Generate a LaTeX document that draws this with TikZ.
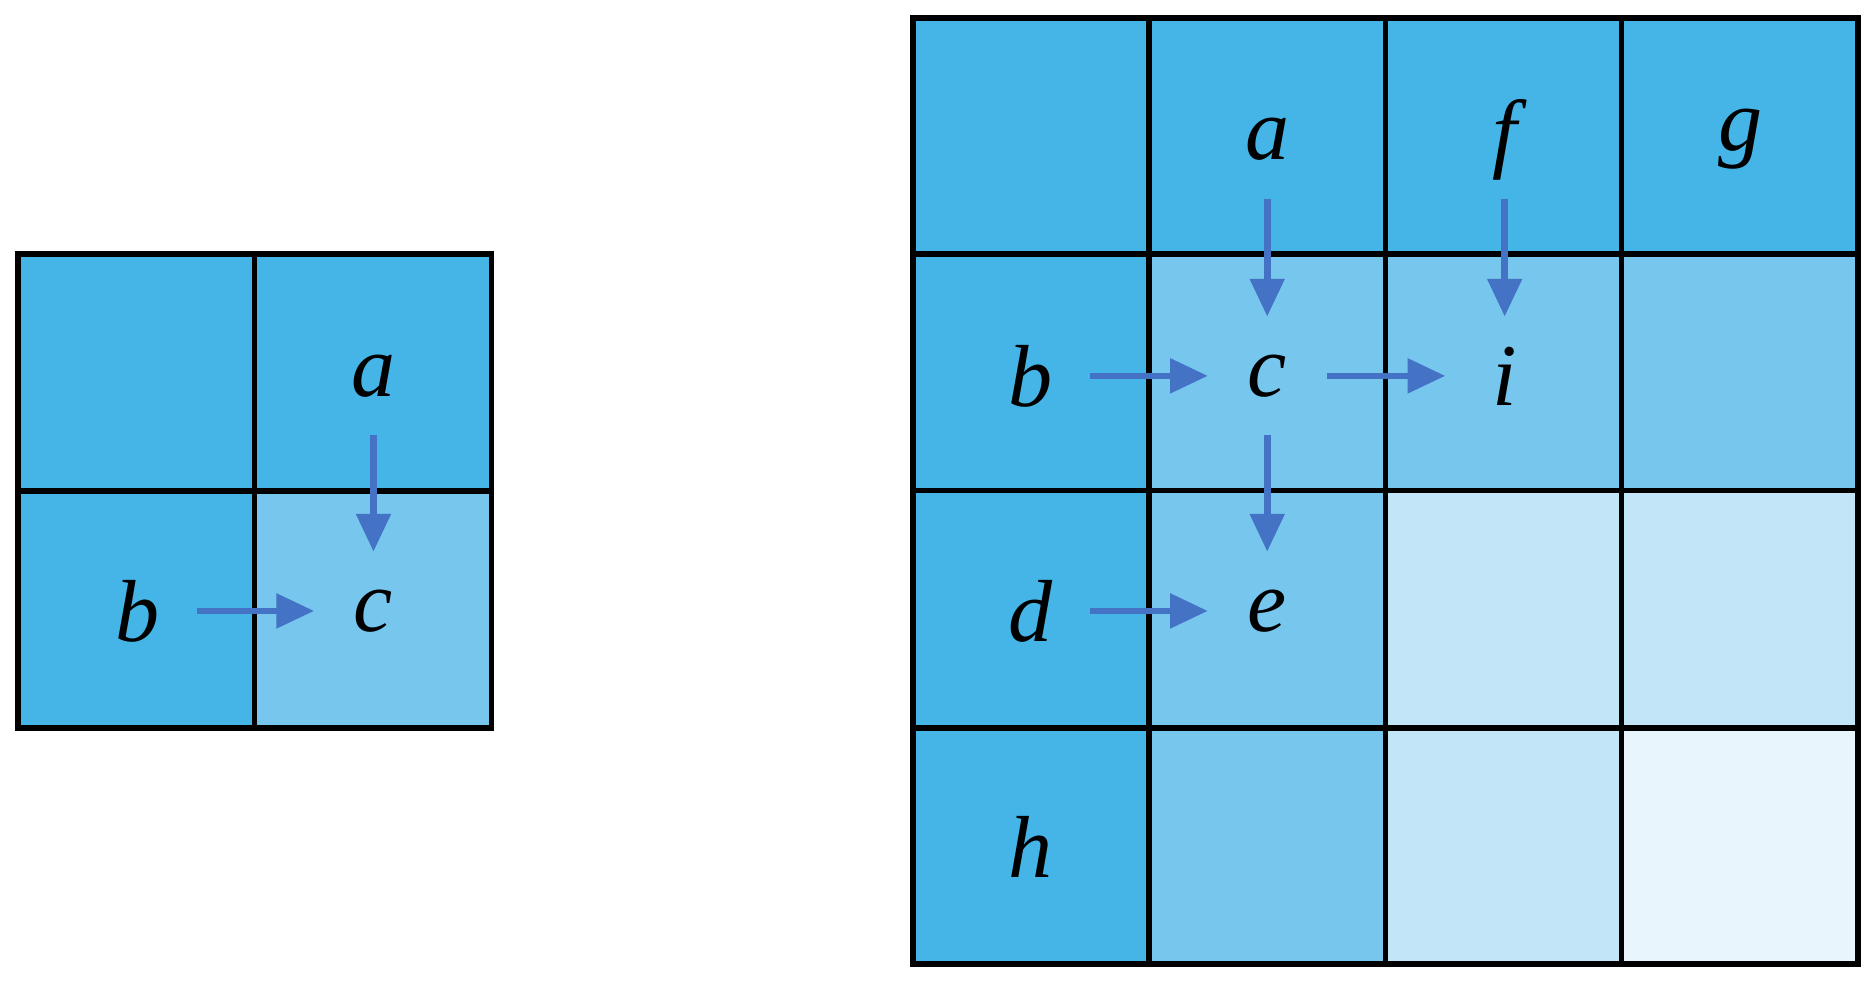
\documentclass[tikz,border=0pt]{standalone}
\usepackage{fontspec}
\setmainfont{Liberation Serif}
\usetikzlibrary{arrows.meta}
\definecolor{cA}{HTML}{45B5E8}
\definecolor{cB}{HTML}{76C6EE}
\definecolor{cC}{HTML}{C2E6F7}
\definecolor{cD}{HTML}{E8F5FC}
\definecolor{arr}{HTML}{4472C4}
\begin{document}
\begin{tikzpicture}[x=0.01cm,y=-0.01cm,
  cell/.style={draw=black,line width=1.3pt},
  lbl/.style={circle,minimum size=0.98cm,inner sep=0pt,font=\fontsize{21}{24}\selectfont\itshape},
  link/.style={draw=arr,line width=1.6pt,-{Triangle[length=9pt,width=8pt]}}]
\useasboundingbox (0,0) rectangle (1568,824.6);
% left grid
\def\cs{198.5}
\fill[cA] (15,213) rectangle (412,610);
\fill[cB] (213.5,411.5) rectangle (412,610);
\draw[cell] (15,213) rectangle (412,610);
\draw[cell] (213.5,213) -- (213.5,610) (15,411.5) -- (412,411.5);
\node[lbl] (la) at (313,315) {a};
\node[lbl] (lb) at (115,512) {b};
\node[lbl] (lc) at (313,512) {c};
\draw[link] (la) -- (lc);
\draw[link] (lb) -- (lc);
% right grid
\fill[cA] (765,15) rectangle (1557,808);
\fill[cB] (963,213) rectangle (1557,411) (963,411) rectangle (1161,808);
\fill[cC] (1161,411) rectangle (1557,808);
\fill[cD] (1359,610) rectangle (1557,808);
\foreach \x in {963,1161,1359} \draw[cell] (\x,15) -- (\x,808);
\foreach \y in {213,411,610} \draw[cell] (765,\y) -- (1557,\y);
\draw[cell] (765,15) rectangle (1557,808);
\node[lbl] (ra) at (1062,117) {a};
\node[lbl] (rf) at (1261,117) {f};
\node[lbl] (rg) at (1459,117) {g};
\node[lbl] (rb) at (864,315) {b};
\node[lbl] (rc) at (1062,315) {c};
\node[lbl] (ri) at (1261,315) {i};
\node[lbl] (rd) at (864,512) {d};
\node[lbl] (re) at (1062,512) {e};
\node[lbl] (rh) at (864,710) {h};
\draw[link] (ra) -- (rc);
\draw[link] (rf) -- (ri);
\draw[link] (rb) -- (rc);
\draw[link] (rc) -- (ri);
\draw[link] (rc) -- (re);
\draw[link] (rd) -- (re);
\end{tikzpicture}
\end{document}
